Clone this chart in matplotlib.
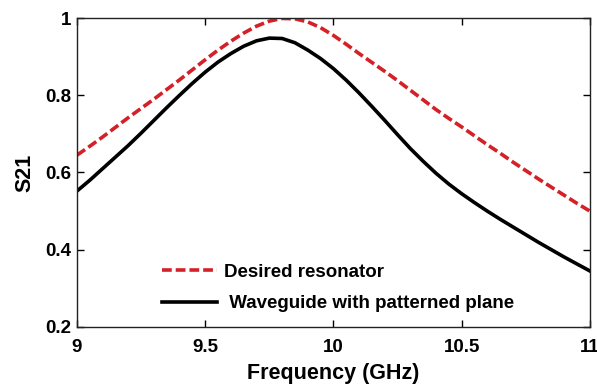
import numpy as np
import matplotlib
matplotlib.use("Agg")
from matplotlib import pyplot as plt

# frequency samples (GHz)
freq = [9.00, 9.05, 9.10, 9.15, 9.20, 9.25, 9.30, 9.35, 9.40, 9.45,
        9.50, 9.55, 9.60, 9.65, 9.70, 9.75, 9.80, 9.85, 9.90, 9.95,
        10.00, 10.05, 10.10, 10.15, 10.20, 10.25, 10.30, 10.35, 10.40, 10.45,
        10.50, 10.55, 10.60, 10.65, 10.70, 10.75, 10.80, 10.85, 10.90, 10.95,
        11.00]
# S21 of the desired resonator
s21_desired = [0.645, 0.668, 0.692, 0.717, 0.742, 0.766, 0.790, 0.815, 0.840, 0.866,
               0.892, 0.917, 0.940, 0.961, 0.979, 0.992, 0.999, 0.998, 0.990, 0.975,
               0.955, 0.932, 0.908, 0.885, 0.862, 0.838, 0.813, 0.788, 0.763, 0.740,
               0.718, 0.695, 0.672, 0.650, 0.627, 0.605, 0.583, 0.562, 0.541, 0.520,
               0.500]
# S21 of the waveguide with patterned plane
s21_waveguide = [0.552, 0.580, 0.610, 0.640, 0.670, 0.702, 0.735, 0.768, 0.800, 0.831,
                 0.860, 0.886, 0.908, 0.927, 0.941, 0.948, 0.947, 0.936, 0.917, 0.895,
                 0.869, 0.839, 0.806, 0.771, 0.735, 0.698, 0.662, 0.629, 0.598, 0.570,
                 0.545, 0.522, 0.500, 0.479, 0.459, 0.439, 0.419, 0.400, 0.381, 0.363,
                 0.345]

xticks = [9, 9.5, 10, 10.5, 11]
xticklabels = ["9", "9.5", "10", "10.5", "11"]
yticks = [0.2, 0.4, 0.6, 0.8, 1.0]
yticklabels = ["0.2", "0.4", "0.6", "0.8", "1"]

plt.rcParams['font.family'] = ['Liberation Sans', 'DejaVu Sans']

fig = plt.figure(figsize=(5.97, 3.92), dpi=100)
ax = fig.add_axes([0.129, 0.166, 0.859, 0.788])

ax.plot(freq, s21_desired, color="#d42027", lw=2.6, linestyle=(0, (2.7, 1.1)),
        label="Desired resonator")
ax.plot(freq, s21_waveguide, color="black", lw=2.6,
        label=" Waveguide with patterned plane")

ax.set_xlim(9, 11)
ax.set_ylim(0.2, 1.0)
ax.set_xticks(xticks)
ax.set_xticklabels(xticklabels, fontsize=13.5, fontweight="bold")
ax.set_yticks(yticks)
ax.set_yticklabels(yticklabels, fontsize=13.5, fontweight="bold")
ax.tick_params(direction="in", top=True, right=True, length=5, width=1)
ax.tick_params(axis="x", pad=9)
ax.tick_params(axis="y", pad=4)
for sp in ax.spines.values():
    sp.set_linewidth(1.0)
    sp.set_color("#222222")

ax.set_xlabel("Frequency (GHz)", fontsize=15.5, fontweight="bold", labelpad=5)
ax.set_ylabel("S21", fontsize=15.5, fontweight="bold", labelpad=7)

ax.legend(loc="lower left", bbox_to_anchor=(0.166, 0.047), frameon=False,
          borderpad=0, borderaxespad=0,
          handlelength=2.9, handletextpad=0.4, labelspacing=0.78,
          prop={'weight': 'bold', 'size': 13.5})

fig.savefig("out.png", dpi=100)
